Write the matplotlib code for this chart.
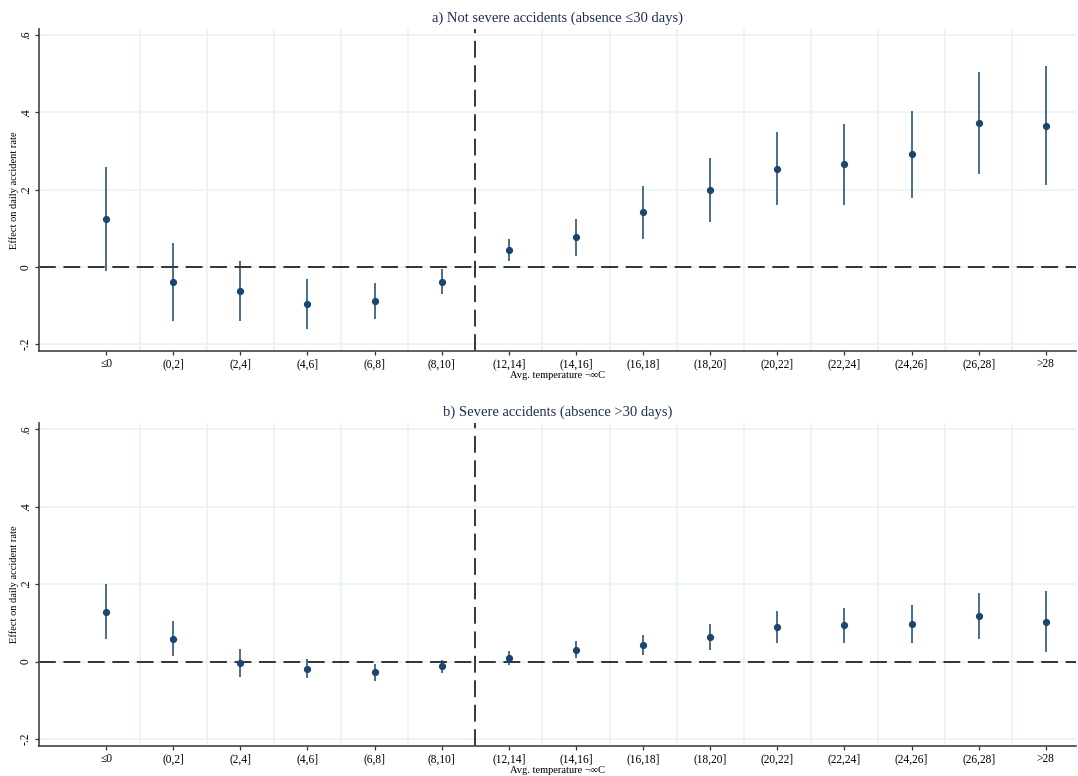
import matplotlib
matplotlib.use("Agg")
import matplotlib.pyplot as plt
import numpy as np

categories = ["≤0", "(0,2]", "(2,4]", "(4,6]", "(6,8]", "(8,10]", "(12,14]", "(14,16]",
              "(16,18]", "(18,20]", "(20,22]", "(22,24]", "(24,26]", "(26,28]", ">28"]

# Panel a) Not severe accidents
a_est = [0.123, -0.040, -0.062, -0.095, -0.088, -0.038, 0.043, 0.077, 0.141, 0.199, 0.254, 0.266, 0.291, 0.373, 0.366]
a_lo = [-0.012, -0.140, -0.140, -0.160, -0.136, -0.071, 0.014, 0.028, 0.073, 0.117, 0.159, 0.160, 0.178, 0.240, 0.212]
a_hi = [0.258, 0.061, 0.016, -0.031, -0.041, -0.006, 0.073, 0.124, 0.210, 0.282, 0.350, 0.370, 0.404, 0.505, 0.520]

# Panel b) Severe accidents
b_est = [0.129, 0.059, -0.003, -0.018, -0.028, -0.011, 0.010, 0.031, 0.044, 0.064, 0.089, 0.094, 0.097, 0.118, 0.103]
b_lo = [0.059, 0.014, -0.040, -0.043, -0.051, -0.029, -0.010, 0.010, 0.018, 0.031, 0.047, 0.049, 0.049, 0.059, 0.025]
b_hi = [0.200, 0.105, 0.032, 0.007, -0.006, 0.005, 0.028, 0.052, 0.069, 0.098, 0.131, 0.138, 0.147, 0.176, 0.181]

titles = ["a) Not severe accidents (absence ≤30 days)", "b) Severe accidents (absence >30 days)"]
ytick_vals = [-0.2, 0, 0.2, 0.4, 0.6]
ytick_labels = ["-.2", "0", ".2", ".4", ".6"]
xlabel = "Avg. temperature ¬∞C"
ylabel = "Effect on daily accident rate"

plt.rcParams['font.family'] = ['Liberation Serif', 'DejaVu Serif']

navy = "#1a476f"
grid_c = "#eaf2f3"
title_c = "#1e2d4f"

fig = plt.figure(figsize=(10.78, 7.76), dpi=100)
W, H = 1078, 776
panels = [(29, 351), (423, 746)]
data = [(a_est, a_lo, a_hi), (b_est, b_lo, b_hi)]

x = np.arange(len(categories))
for (top, bot), (est, lo, hi), title in zip(panels, data, titles):
    ax = fig.add_axes([39 / W, 1 - bot / H, (1076 - 39) / W, (bot - top) / H])
    ax.set_xlim(-1, 14.45)
    ax.set_ylim(-0.218, 0.616)
    # grid
    for gx in np.arange(0.5, 14, 1.0):
        if abs(gx - 5.5) > 1e-6:
            ax.axvline(gx, color=grid_c, lw=1.2, zorder=0)
    for gy in ytick_vals:
        ax.axhline(gy, color=grid_c, lw=1.2, zorder=0)
    ax.axhline(0, color="black", lw=1.1, dashes=(11, 5), zorder=1)
    ax.axvline(5.5, color="black", lw=1.1, dashes=(11, 5), zorder=1)
    est = np.array(est); lo = np.array(lo); hi = np.array(hi)
    ax.vlines(x, lo, hi, color=navy, lw=1.1, zorder=2)
    ax.plot(x, est, 'o', color=navy, ms=4.2, zorder=3)
    ax.set_xticks(x)
    ax.set_xticklabels(categories, fontsize=8.3)
    ax.set_yticks(ytick_vals)
    ax.set_yticklabels(ytick_labels, fontsize=8.3, rotation=90, va='center')
    ax.tick_params(axis='both', direction='out', length=3, width=0.9, color='#333333', pad=2)
    for s in ['top', 'right']:
        ax.spines[s].set_visible(False)
    for s in ['left', 'bottom']:
        ax.spines[s].set_color('#444444')
        ax.spines[s].set_linewidth(1.2)
    ax.set_title(title, fontsize=10.5, color=title_c, pad=5)
    ax.set_xlabel(xlabel, fontsize=7.5, labelpad=1)
    ax.set_ylabel(ylabel, fontsize=7.5, labelpad=1)

fig.savefig("out.png", dpi=100)
